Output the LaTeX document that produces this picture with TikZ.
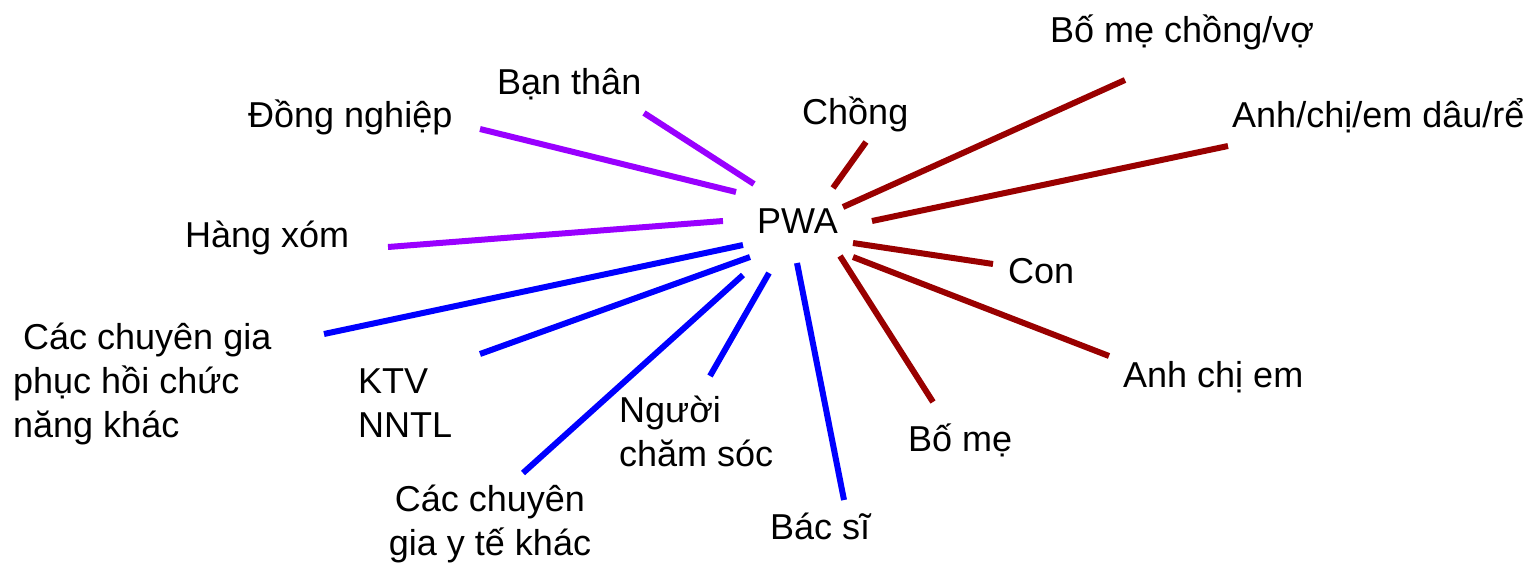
\documentclass[tikz,border=0pt]{standalone}
\usepackage{fontspec}
\setmainfont{Liberation Sans}
\definecolor{friendcol}{RGB}{153,0,255}
\definecolor{carecol}{RGB}{0,0,255}
\definecolor{kincol}{RGB}{153,0,0}
\begin{document}
\begin{tikzpicture}[x=1bp,y=-1bp,
  lbl/.style={anchor=base west,inner sep=0pt,
    font=\fontsize{36bp}{44bp}\selectfont},
  friend/.style={draw=friendcol,line width=6bp},
  care/.style={draw=carecol,line width=6bp},
  kin/.style={draw=kincol,line width=6bp}]
\useasboundingbox (0,0) rectangle (1538,564);
% centre
\node[lbl] (pwa) at (757,233) {PWA};
% friends and neighbours
\node[lbl] (dongnghiep) at (248,128) {Đồng nghiệp};
\node[lbl] (banthan) at (497,95) {Bạn thân};
\node[lbl] (hangxom) at (185,247) {Hàng xóm};
% care team (multi-line labels sit on their last line)
\node[lbl,align=left] (phcn) at (13,437) {\hspace*{10bp}Các chuyên gia\\phục hồi chức\\năng khác};
\node[lbl,align=left] (ktv) at (358,437) {KTV\\NNTL};
\node[lbl,align=center,anchor=base] (yte) at (490,555) {Các chuyên\\gia y tế khác};
\node[lbl,align=left] (chamsoc) at (619,466) {Người\\chăm sóc};
\node[lbl] (bacsi) at (770,539) {Bác sĩ};
% family
\node[lbl] (chong) at (802,125) {Chồng};
\node[lbl] (bmchong) at (1050,43) {Bố mẹ chồng/vợ};
\node[lbl] (daure) at (1232,128) {Anh/chị/em dâu/rể};
\node[lbl] (con) at (1008,283) {Con};
\node[lbl] (anhchiem) at (1123,387) {Anh chị em};
\node[lbl] (bome) at (908,451) {Bố mẹ};

% line ends
\coordinate (dongnghiep-a) at (480,129);  \coordinate (dongnghiep-b) at (736,192);
\coordinate (banthan-a) at (644,113);     \coordinate (banthan-b) at (754,184);
\coordinate (hangxom-a) at (388,247);     \coordinate (hangxom-b) at (723,221);
\coordinate (phcn-a) at (324,334);        \coordinate (phcn-b) at (743,245);
\coordinate (ktv-a) at (480,354);         \coordinate (ktv-b) at (750,257);
\coordinate (yte-a) at (523,473);         \coordinate (yte-b) at (743,275);
\coordinate (chamsoc-a) at (710,376);     \coordinate (chamsoc-b) at (769,273);
\coordinate (bacsi-a) at (844,500);       \coordinate (bacsi-b) at (797,263);
\coordinate (chong-a) at (833,188);       \coordinate (chong-b) at (866,142);
\coordinate (bmchong-a) at (843,207);     \coordinate (bmchong-b) at (1125,80);
\coordinate (daure-a) at (872,221);       \coordinate (daure-b) at (1228,146);
\coordinate (con-a) at (853,243);         \coordinate (con-b) at (993,264);
\coordinate (anhchiem-a) at (853,257);    \coordinate (anhchiem-b) at (1109,356);
\coordinate (bome-a) at (840,256);        \coordinate (bome-b) at (933,402);

\draw[friend] (dongnghiep-a) -- (dongnghiep-b);
\draw[friend] (banthan-a) -- (banthan-b);
\draw[friend] (hangxom-a) -- (hangxom-b);
\draw[care] (phcn-a) -- (phcn-b);
\draw[care] (ktv-a) -- (ktv-b);
\draw[care] (yte-a) -- (yte-b);
\draw[care] (chamsoc-a) -- (chamsoc-b);
\draw[care] (bacsi-a) -- (bacsi-b);
\draw[kin] (chong-a) -- (chong-b);
\draw[kin] (bmchong-a) -- (bmchong-b);
\draw[kin] (daure-a) -- (daure-b);
\draw[kin] (con-a) -- (con-b);
\draw[kin] (anhchiem-a) -- (anhchiem-b);
\draw[kin] (bome-a) -- (bome-b);
\end{tikzpicture}
\end{document}
